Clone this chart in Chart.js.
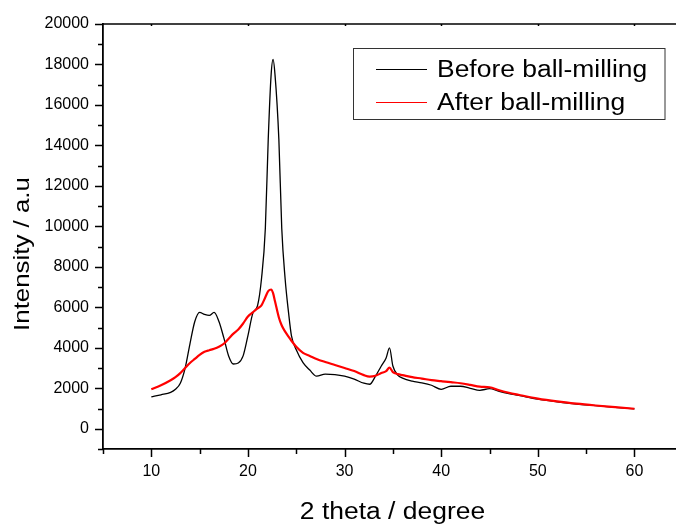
<!DOCTYPE html>
<html>
<head>
<meta charset="utf-8">
<script src="https://cdn.jsdelivr.net/npm/chart.js@4/dist/chart.umd.min.js"></script>
<style>
  html, body { margin: 0; padding: 0; background: #fff; }
  #wrap { width: 676px; height: 527px; position: relative; }
</style>
</head>
<body>
<div id="wrap"><canvas id="c" width="676" height="527"></canvas></div>
<script>
// ---- data ----
const angles = [10, 11, 12, 12.5, 13, 13.5, 14, 14.5, 15, 15.5, 16, 16.5, 17, 17.5, 18, 18.5, 19, 19.5, 20, 20.5, 21, 21.4, 21.8, 22.1, 22.4, 22.6, 22.8, 23.2, 23.5, 23.85, 24.2, 24.5, 25, 25.7, 26.4, 27.1, 28, 29, 30, 31, 32, 32.6, 33.2, 33.8, 34.3, 34.65, 35, 35.5, 36, 37, 38, 39, 40, 41, 42, 43, 44, 45, 46, 47, 48, 50, 52, 54, 56, 58, 60];
const beforeMilling = [1580, 1680, 1800, 1950, 2250, 3000, 4200, 5300, 5750, 5650, 5600, 5750, 5300, 4500, 3600, 3200, 3250, 3600, 4600, 5700, 6100, 7400, 9900, 14300, 17500, 18250, 17500, 14300, 9900, 7400, 5750, 4600, 3900, 3270, 2900, 2600, 2700, 2680, 2600, 2450, 2250, 2200, 2600, 3100, 3500, 4000, 3100, 2650, 2500, 2350, 2270, 2150, 1950, 2100, 2100, 2000, 1900, 1980, 1850, 1740, 1650, 1460, 1330, 1220, 1140, 1060, 980];
const afterMilling = [1950, 2150, 2400, 2550, 2750, 3000, 3250, 3450, 3650, 3800, 3880, 3950, 4050, 4200, 4450, 4700, 4900, 5200, 5550, 5750, 5950, 6100, 6500, 6800, 6880, 6700, 6300, 5500, 5100, 4800, 4550, 4350, 4050, 3750, 3600, 3450, 3300, 3150, 3000, 2850, 2650, 2580, 2620, 2750, 2850, 3020, 2800, 2700, 2650, 2550, 2480, 2400, 2350, 2300, 2250, 2170, 2080, 2050, 1900, 1780, 1680, 1490, 1350, 1240, 1150, 1070, 990];
const seriesLabels = ['Before ball-milling', 'After ball-milling'];
const xMajorTicks = [10, 20, 30, 40, 50, 60];
const xMinorTicks = [5, 15, 25, 35, 45, 55];
const yMajorTicks = [0, 2000, 4000, 6000, 8000, 10000, 12000, 14000, 16000, 18000, 20000];
const yMinorTicks = [-1000, 1000, 3000, 5000, 7000, 9000, 11000, 13000, 15000, 17000, 19000];
const xTitle = '2 theta / degree';
const yTitle = 'Intensity / a.u';

const FONT = '"Liberation Sans", Arial, sans-serif';
const STRETCH = 1.15;

function stretchText(ctx, text, x, y, size, align, rot) {
  ctx.save();
  ctx.translate(x, y);
  if (rot) ctx.rotate(rot);
  ctx.scale(STRETCH, 1);
  ctx.font = size + 'px ' + FONT;
  ctx.fillStyle = '#000';
  ctx.textAlign = align;
  ctx.textBaseline = 'alphabetic';
  ctx.fillText(text, 0, 0);
  ctx.restore();
}

const decorPlugin = {
  id: 'decor',
  afterDraw(chart) {
    const ctx = chart.ctx;
    const a = chart.chartArea;
    const xs = chart.scales.x, ys = chart.scales.y;
    ctx.save();
    ctx.strokeStyle = '#000';
    // top frame line
    ctx.lineWidth = 1.5;
    ctx.beginPath();
    ctx.moveTo(a.left, a.top);
    ctx.lineTo(a.right, a.top);
    ctx.stroke();
    // x ticks (outward, below axis)
    ctx.lineWidth = 1.5;
    ctx.beginPath();
    xMajorTicks.forEach(v => { const p = Math.round(xs.getPixelForValue(v)) + 0.5; ctx.moveTo(p, a.bottom); ctx.lineTo(p, a.bottom + 8); ctx.moveTo(p, a.top); ctx.lineTo(p, a.top + 2); });
    xMinorTicks.forEach(v => { const p = Math.round(xs.getPixelForValue(v)) + 0.5; ctx.moveTo(p, a.bottom); ctx.lineTo(p, a.bottom + 5); });
    // y ticks (outward, left of axis)
    yMajorTicks.forEach(v => { const p = Math.round(ys.getPixelForValue(v)) + 0.5; ctx.moveTo(a.left, p); ctx.lineTo(a.left - 8, p); });
    yMinorTicks.forEach(v => { const p = Math.round(ys.getPixelForValue(v)) + 0.5; ctx.moveTo(a.left, p); ctx.lineTo(a.left - 5, p); });
    ctx.stroke();

    // axis titles
    stretchText(ctx, xTitle, (a.left + a.right) / 2 + 3, 519, 23, 'center', 0);
    stretchText(ctx, yTitle, 29, 254, 22.5, 'center', -Math.PI / 2);

    // legend
    const bx = 353.5, by = 48.5, bw = 311.5, bh = 71;
    ctx.lineWidth = 1;
    ctx.strokeStyle = '#333';
    ctx.strokeRect(bx, by, bw, bh);
    const rows = [69.5, 102.5];
    chart.data.datasets.forEach((ds, i) => {
      ctx.strokeStyle = ds.borderColor;
      ctx.lineWidth = 1;
      ctx.beginPath();
      ctx.moveTo(376, rows[i]);
      ctx.lineTo(427, rows[i]);
      ctx.stroke();
      stretchText(ctx, ds.label, 437, rows[i] + 7, 23, 'left', 0);
    });
    ctx.restore();
  }
};

const toPoints = ys => angles.map((a, i) => ({ x: a, y: ys[i] }));

new Chart(document.getElementById('c'), {
  type: 'line',
  data: {
    datasets: [
      { label: seriesLabels[0], data: toPoints(beforeMilling), borderColor: '#000000', borderWidth: 1.3, pointRadius: 0, cubicInterpolationMode: 'monotone', order: 1 },
      { label: seriesLabels[1], data: toPoints(afterMilling), borderColor: '#ff0000', borderWidth: 2.2, pointRadius: 0, cubicInterpolationMode: 'monotone', order: 0 }
    ]
  },
  options: {
    responsive: false,
    devicePixelRatio: 1,
    animation: false,
    layout: { padding: { top: 24, right: 0, left: 0, bottom: 0 } },
    plugins: { legend: { display: false }, tooltip: { enabled: false } },
    scales: {
      x: {
        type: 'linear',
        min: 5,
        max: 64.3,
        afterFit: s => { s.height = 78; },
        afterBuildTicks: s => { s.ticks = xMajorTicks.map(v => ({ value: v })); },
        grid: { drawOnChartArea: false, drawTicks: true, tickLength: 8, tickColor: 'rgba(0,0,0,0)' },
        border: { display: true, color: '#000', width: 1.8 },
        ticks: { color: '#000', font: { family: FONT, size: 16 }, padding: 5, maxRotation: 0, autoSkip: false, callback: v => String(v) }
      },
      y: {
        type: 'linear',
        min: -1000,
        max: 20000,
        afterFit: s => { s.width = 103; },
        afterBuildTicks: s => { s.ticks = yMajorTicks.map(v => ({ value: v })); },
        grid: { drawOnChartArea: false, drawTicks: true, tickLength: 8, tickColor: 'rgba(0,0,0,0)' },
        border: { display: true, color: '#000', width: 1.8 },
        ticks: { color: '#000', font: { family: FONT, size: 16 }, padding: 6, autoSkip: false, callback: v => String(v) }
      }
    }
  },
  plugins: [decorPlugin]
});
</script>
</body>
</html>
